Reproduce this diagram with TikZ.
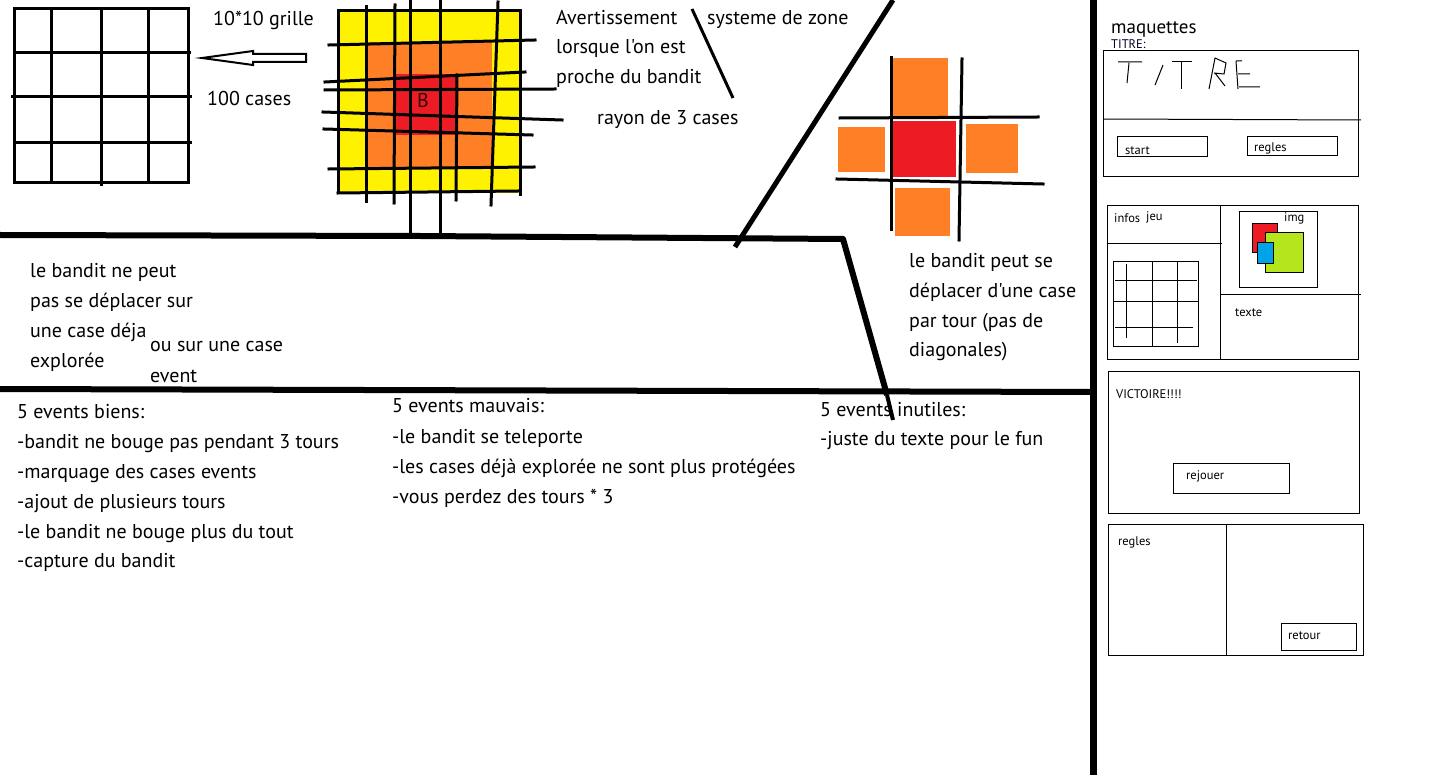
\documentclass[tikz,border=0pt]{standalone}
\usepackage{fontspec}
\setmainfont{PT Sans}[Ligatures=TeXOff]
\definecolor{pyellow}{HTML}{FFF200}
\definecolor{porange}{HTML}{FF7F27}
\definecolor{pred}{HTML}{ED1C24}
\definecolor{plime}{HTML}{B5E61D}
\definecolor{pblue}{HTML}{00A2E8}
\tikzset{
  txt/.style={anchor=base west, inner sep=0pt, font=\fontsize{20}{20}\selectfont},
  stxt/.style={anchor=base west, inner sep=0pt, font=\fontsize{12.5}{12.5}\selectfont},
  gridline/.style={line width=3pt, line cap=rect},
  thick line/.style={line width=6pt},
  thin line/.style={line width=1pt},
}
\begin{document}
\begin{tikzpicture}[x=1pt,y=-1pt]
\useasboundingbox[fill=white] (0,0) rectangle (1432,775);

% ---------- top-left grid ----------
\draw[gridline] (14,9) rectangle (188,183);
\draw[gridline] (51,9) -- (51,183) (101,9) -- (101,185) (148,9) -- (148,183);
\draw[gridline] (14,53) -- (189,53) (12,97) -- (190,97) (14,143) -- (190,143);

% hollow arrow
\draw[line width=2pt] (202,58) -- (253,51) -- (253,54) -- (306,54) -- (306,62) -- (253,62) -- (253,65) -- cycle;
\node[txt] (grille) at (213,26) {10*10 grille};
\node[txt] (cases) at (207,106) {100 cases};

% ---------- coloured zone grid ----------
\fill[pyellow] (338,11) rectangle (520,193);
\fill[porange] (367,42) rectangle (492,167);
\fill[pred] (395,74) rectangle (457,135);
\node[anchor=base, inner sep=0pt, font=\fontsize{20}{20}\selectfont, text=black!80!pred] (B) at (423,108) {B};
\draw[gridline] (338,11) -- (338,193);
\draw[gridline] (366,7) -- (366,202);
\draw[gridline] (395,5) -- (394,203);
\draw[gridline] (410,1) -- (410,234);
\draw[gridline] (440,0) -- (440,234);
\draw[gridline] (457,75) -- (456,200);
\draw[gridline] (498,2) -- (491,205);
\draw[gridline] (520,11) -- (520,195);
\draw[gridline] (338,11) -- (520,11);
\draw[gridline] (329,45) -- (535,40);
\draw[gridline] (325,82) -- (525,72);
\draw[gridline] (325,90) -- (555,89);
\draw[gridline] (323,112) -- (562,120);
\draw[gridline] (324,129) -- (532,135);
\draw[gridline] (329,169) -- (534,167);
\draw[gridline] (338,193) -- (518,191);

% texts top middle
\node[txt] (avert1) at (556,25) {Avertissement};
\node[txt] (avert2) at (556,54) {lorsque l'on est};
\node[txt] (avert3) at (556,84) {proche du bandit};
\node[txt] (zone) at (707,25) {systeme de zone};
\node[txt] (rayon) at (597,125) {rayon de 3 cases};
\draw[gridline, line cap=butt] (692,9) -- (733,98);

% ---------- thick separators ----------
\draw[thick line, line join=round] (0,235) -- (420,236) -- (843,239) -- (887,395);
\draw[line width=4pt] (887,395) -- (893,420);
\draw[line width=5pt] (735,247) -- (893,0);
\draw[thick line] (0,389) -- (1092,392);
\draw[line width=7pt] (1093,0) -- (1093,775);

% ---------- cross ----------
\fill[porange] (892,58) rectangle (948,116);
\fill[pred] (893,121) rectangle (956,177);
\fill[porange] (838,127) rectangle (885,172);
\fill[porange] (966,124) rectangle (1018,173);
\fill[porange] (895,188) rectangle (950,236);
\draw[gridline] (891,58) -- (891,230);
\draw[gridline] (962,59) -- (959,240);
\draw[gridline] (840,118) -- (1038,117);
\draw[gridline] (837,179) -- (1043,184);

\node[txt] (move1) at (909,268) {le bandit peut se};
\node[txt] (move2) at (909,298) {déplacer d'une case};
\node[txt] (move3) at (909,328) {par tour (pas de};
\node[txt] (move4) at (909,357) {diagonales)};

% ---------- middle-left texts ----------
\node[txt] (no1) at (30,278) {le bandit ne peut};
\node[txt] (no2) at (30,308) {pas se déplacer sur};
\node[txt] (no3) at (30,338) {une case déja};
\node[txt] (no4) at (30,368) {explorée};
\node[txt] (ou1) at (150,352) {ou sur une case};
\node[txt] (ou2) at (150,382) {event};

% ---------- bottom lists ----------
\node[txt] (b0) at (17,418) {5 events biens:};
\node[txt] (b1) at (17,448) {-bandit ne bouge pas pendant 3 tours};
\node[txt] (b2) at (17,478) {-marquage des cases events};
\node[txt] (b3) at (17,508) {-ajout de plusieurs tours};
\node[txt] (b4) at (17,538) {-le bandit ne bouge plus du tout};
\node[txt] (b5) at (17,567) {-capture du bandit};

\node[txt] (m0) at (392,413) {5 events mauvais:};
\node[txt] (m1) at (392,443) {-le bandit se teleporte};
\node[txt] (m2) at (392,473) {-les cases déjà explorée ne sont plus protégées};
\node[txt] (m3) at (392,503) {-vous perdez des tours * 3};

\node[txt] (i0) at (820,416) {5 events inutiles:};
\node[txt] (i1) at (820,445) {-juste du texte pour le fun};

% ---------- maquettes ----------
\node[txt, font=\fontsize{19}{19}\selectfont] (maq) at (1111,34) {maquettes};
\node[stxt, text=black!85!blue] (titrelab) at (1111,49) {TITRE:};

% screen 1
\draw[thin line] (1103,51) rectangle (1358,177);
\draw[thin line] (1103,119) -- (1361,120);
\draw[thin line] (1117,137) rectangle (1207,157);
\node[stxt] (start) at (1125,155) {start};
\draw[thin line] (1247,137) rectangle (1337,156);
\node[stxt] (regles1) at (1254,152) {regles};
% handwritten TITRE
\draw[thin line] (1118,62) -- (1142,62) (1129,63) -- (1127,83);
\draw[thin line] (1163,65) -- (1155,85);
\draw[thin line] (1172,62) -- (1192,62) (1181,62) -- (1181,89);
\draw[thin line] (1209,89) -- (1215,58) -- (1226,63) -- (1224,74) -- (1214,73) (1215,73) -- (1225,86);
\draw[thin line] (1236,61) -- (1238,89) (1236,61) -- (1242,61) (1238,74) -- (1250,74) (1239,87) -- (1260,87);

% screen 2
\draw[thin line] (1107,206) rectangle (1358,360);
\draw[thin line] (1220,206) -- (1220,360);
\draw[thin line] (1107,244) -- (1222,244);
\draw[thin line] (1220,295) -- (1361,295);
\node[stxt] (infos) at (1114,223) {infos};
\node[stxt] (jeu) at (1146,221) {jeu};
\draw[thin line] (1113,262) rectangle (1198,347);
\draw[thin line] (1126,264) -- (1126,338) (1152,262) -- (1152,347) (1177,262) -- (1177,343);
\draw[thin line] (1115,281) -- (1197,281) (1113,302) -- (1198,302) (1115,328) -- (1193,328);
\draw[thin line] (1239,212) rectangle (1317,288);
\node[stxt] (img) at (1284,222) {img};
\draw[thin line, fill=pred] (1252,224) rectangle (1277,253);
\draw[thin line, fill=plime] (1265,233) rectangle (1303,273);
\draw[thin line, fill=pblue] (1257,243) rectangle (1273,264);
\node[stxt] (texte) at (1235,317) {texte};

% screen 3
\draw[thin line] (1108,372) rectangle (1359,513);
\node[stxt] (vict) at (1116,399) {VICTOIRE!!!!};
\draw[thin line] (1173,463) rectangle (1289,493);
\node[stxt] (rejouer) at (1186,479) {rejouer};

% screen 4
\draw[thin line] (1108,524) rectangle (1363,655);
\draw[thin line] (1226,524) -- (1226,655);
\node[stxt] (regles2) at (1118,545) {regles};
\draw[thin line] (1281,623) rectangle (1356,650);
\node[stxt] (retour) at (1288,639) {retour};
\end{tikzpicture}
\end{document}
